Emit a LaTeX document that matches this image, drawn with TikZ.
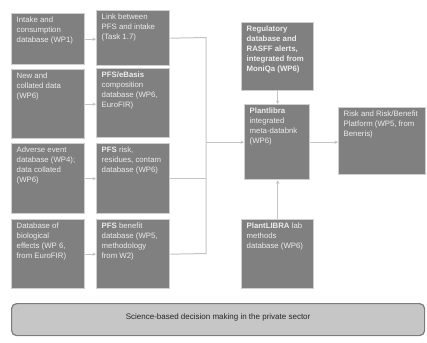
\documentclass[tikz,border=0pt]{standalone}
\usepackage{fontspec}
\setmainfont{Liberation Sans}
\usetikzlibrary{arrows.meta,calc}
\definecolor{boxfill}{HTML}{808080}
\definecolor{boxedge}{HTML}{CFCFCF}
\definecolor{boxtext}{HTML}{EDEDED}
\definecolor{linecol}{HTML}{C4C4C4}
\definecolor{botfill}{HTML}{C6C6C6}
\definecolor{botedge}{HTML}{7C7C7C}
\tikzset{
  box/.style={draw=boxedge, fill=boxfill, line width=1.4pt, inner sep=0pt, anchor=north west},
  boxtxt/.style={anchor=north west, inner sep=0pt, align=left, text=boxtext,
     font=\fontsize{7.8}{10}\selectfont},
  conn/.style={draw=linecol, line width=1pt},
  arr/.style={conn, -{Stealth[length=3.5pt,width=3.5pt]}},
}
\newcommand{\mkbox}[6]{% name, x1, y1, x2, y2, text
  \node[box, minimum width={#4-#2}, minimum height={#5-#3}] (#1) at (#2,#3) {};
  \node[boxtxt] (#1t) at ($(#1.north west)+(5.5,3.5)$) {#6};
}
\begin{document}
\begin{tikzpicture}[x=1pt,y=-1pt]
\useasboundingbox (0,0) rectangle (427,342);
\mkbox{a1}{11}{13}{84}{64}{Intake and\\consumption\\database (WP1)}
\mkbox{b1}{96}{10}{169}{65}{Link between\\PFS and intake\\(Task 1.7)}
\mkbox{a2}{11}{69}{84}{138}{New and\\collated data\\(WP6)}
\mkbox{b2}{96}{68}{169}{137}{\textbf{PFS/eBasis}\\composition\\database (WP6,\\EuroFIR)}
\mkbox{a3}{11}{143}{84}{213}{Adverse event\\database (WP4);\\data collated\\(WP6)}
\mkbox{b3}{96}{143}{169}{213}{\textbf{PFS} risk,\\residues, contam\\database (WP6)}
\mkbox{a4}{11}{219}{84}{288}{Database of\\biological\\effects (WP 6,\\from EuroFIR)}
\mkbox{b4}{96}{219}{169}{288}{\textbf{PFS} benefit\\database (WP5,\\methodology\\from W2)}
\mkbox{reg}{241}{22}{313}{90}{\textbf{Regulatory}\\\textbf{database and}\\\textbf{RASFF alerts,}\\\textbf{integrated from}\\\textbf{MoniQa (WP6)}}
\mkbox{pl}{244}{104}{309}{179}{\textbf{Plantlibra}\\integrated\\meta-databnk\\(WP6)}
\mkbox{risk}{338}{107}{425}{174}{Risk and Risk/Benefit\\Platform (WP5, from\\Beneris)}
\mkbox{lab}{241}{219}{313}{288}{\textbf{PlantLIBRA} lab\\methods\\database (WP6)}
\node[draw=botedge, fill=botfill, line width=1.2pt, rounded corners=5pt,
      minimum width=413pt, minimum height=32pt, anchor=north west, inner sep=0pt] (bot) at (11,303) {};
\node[font=\fontsize{8}{9}\selectfont, text=black!85, inner sep=0pt] (bott) at ($(bot.center)+(0,-2)$) {Science-based decision making in the private sector};
% arrows between columns
\foreach \i in {1,2,3,4}{
  \draw[arr] (a\i.east) -- (a\i.east -| b\i.west);
}
% bus
\coordinate (bt) at (206,37.5);
\coordinate (bb) at (206,253.5);
\draw[conn] (b1.east) -- (bt) -- (bb) -- (b4.east);
\draw[conn] (b3.east) -- (b3.east -| bt);
\draw[arr] (bt |- pl.west) -- (pl.west);
\draw[arr] (reg.south) -- (reg.south |- pl.north);
\draw[arr] (lab.north) -- (lab.north |- pl.south);
\draw[arr] (pl.east) -- (pl.east -| risk.west);
\end{tikzpicture}
\end{document}
